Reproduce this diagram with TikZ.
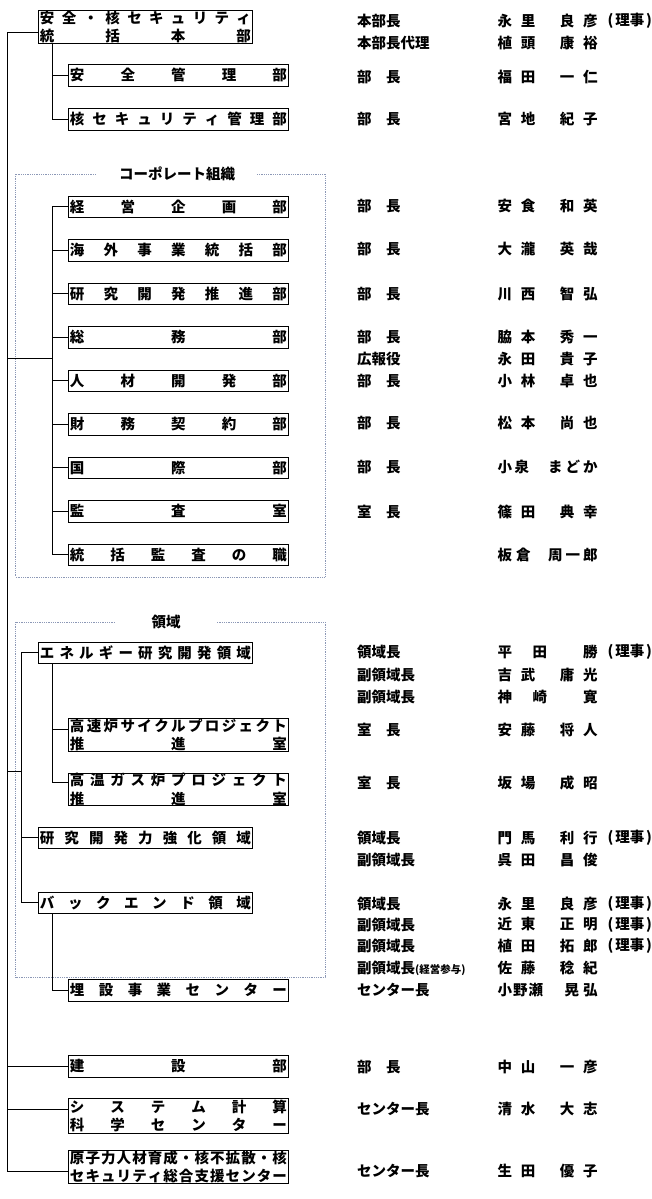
\documentclass[tikz,border=0pt]{standalone}
\usepackage{fontspec}
\setmainfont{Noto Sans CJK JP}
\usepackage{xcolor}
\usetikzlibrary{calc}

\definecolor{grpline}{RGB}{140,152,182}
\newcommand\orgfont{\fontsize{14.5pt}{18.5pt}\selectfont\bfseries}
\newcommand\jsp{\hspace{8.8pt}}
\newcommand\nm[2]{\makebox[100pt][l]{#1\hfill#2}}
\makeatletter
\newcommand\spreadtxt[1]{\def\spr@sep{}\@tfor\spr@c:=#1\do{\spr@sep\spr@c\def\spr@sep{\hfill}}}
\makeatother
\newcommand\wline[1]{\makebox[217pt]{\expandafter\spreadtxt\expandafter{#1}}}
\newcommand\sline[1]{\makebox[211pt]{\expandafter\spreadtxt\expandafter{#1}}}
\newcommand\riji{(\kern2pt 理事\kern1.5pt)}

\tikzset{
  org/.style={draw, line width=0.9pt, inner sep=0pt, minimum height=21.5pt,
    anchor=north west, font=\orgfont},
  widebox/.style={org, minimum width=220pt},
  slimbox/.style={org, minimum width=214pt},
  post/.style={anchor=west, inner sep=0pt, font=\orgfont},
  link/.style={line width=0.9pt},
  group/.style={grpline, line width=0.8pt, densely dotted},
  grouptitle/.style={fill=white, inner ysep=2pt, font=\orgfont}
}

\begin{document}
\begin{tikzpicture}[x=1pt, y=-1pt]
    \useasboundingbox (0,0) rectangle (652,1199);
    % --- bus lines ---
    \coordinate (spine) at (7,0);
    \coordinate (subbus) at (52,0);
    \coordinate (ryoikibus) at (21.7,0);
    \coordinate (corpjoin) at (52,358);
    \coordinate (ryoikijoin) at (21.7,771.7);
    % --- group frames ---
    \draw[group] (15.7,174) rectangle (325,577);
    \node[grouptitle, inner xsep=22pt] (corptitle) at (177,174) {コーポレート組織};
    \draw[group] (15.7,622) rectangle (325,977);
    \node[grouptitle, inner xsep=36pt] (ryoikititle) at (166,622) {領域};
    % --- headquarters ---
    \node[slimbox, minimum height=33pt, align=center] (hq) at (38,10)
      {\sline{安全・核セキュリティ}\\\sline{統括本部}};
    \node[widebox] (anzen) at (68,64) {\wline{安全管理部}};
    \node[widebox] (kakusec) at (68,108) {\wline{核セキュリティ管理部}};
    % --- corporate units ---
    \foreach \n/\lbl [count=\k from 0] in {keiei/経営企画部, kaigai/海外事業統括部,
        kenkyu/研究開発推進部, soumu/総務部, jinzai/人材開発部, zaimu/財務契約部,
        kokusai/国際部, kansa/監査室, kansashoku/統括監査の職}
      \node[widebox] (\n) at (68,195.5+43.5*\k) {\wline{\lbl}};
    % --- domains ---
    \node[slimbox] (energy) at (38,641.5) {\sline{エネルギー研究開発領域}};
    \node[widebox, minimum height=32.5pt, align=center] (kosokuro) at (68,718)
      {\wline{高速炉サイクルプロジェクト}\\\wline{推進室}};
    \node[widebox, minimum height=31.5pt, align=center] (kouon) at (68,772.5)
      {\wline{高温ガス炉プロジェクト}\\\wline{推進室}};
    \node[slimbox] (kyouka) at (38,826.5) {\sline{研究開発力強化領域}};
    \node[slimbox] (backend) at (38,891.5) {\sline{バックエンド領域}};
    \node[widebox] (maisetsu) at (68,979) {\wline{埋設事業センター}};
    % --- other units ---
    \node[widebox] (kensetsu) at (68,1055) {\wline{建設部}};
    \node[widebox, minimum height=35pt, align=center] (system) at (68,1098)
      {\wline{システム計算}\\\wline{科学センター}};
    \node[widebox, minimum height=31.5pt, align=center] (genshiryoku) at (68,1150)
      {\wline{原子力人材育成・核不拡散・核}\\\wline{セキュリティ総合支援センター}};
    % --- connectors ---
    \coordinate (hqjoin) at ([yshift=-5.2pt]hq.west);
    \coordinate (genjoin) at ([yshift=-5.2pt]genshiryoku.west);
    \coordinate (sysjoin) at ([yshift=6.5pt]system.west);
    \coordinate (kosojoin) at ([yshift=5.3pt]kosokuro.west);
    \coordinate (kouonjoin) at ([yshift=6.6pt]kouon.west);
    \draw[link] (hqjoin) -| (spine |- genjoin) -- (genjoin);
    \draw[link] (kensetsu.west) -- (kensetsu.west -| spine);
    \draw[link] (sysjoin) -- (sysjoin -| spine);
    \draw[link] (corpjoin) -- (corpjoin -| spine);
    \draw[link] (ryoikijoin) -- (ryoikijoin -| spine);
    \draw[link] (hq.south -| subbus) |- (kakusec.west);
    \draw[link] (anzen.west) -- (anzen.west -| subbus);
    \draw[link] (keiei.west) -| (subbus |- kansashoku.west) -- (kansashoku.west);
    \foreach \n in {kaigai, kenkyu, soumu, jinzai, zaimu, kokusai, kansa}
      \draw[link] (\n.west) -- (\n.west -| subbus);
    \draw[link] (energy.west) -| (ryoikibus |- backend.west) -- (backend.west);
    \draw[link] (kyouka.west) -- (kyouka.west -| ryoikibus);
    \draw[link] (energy.south -| subbus) |- (kouonjoin);
    \draw[link] (kosojoin) -- (kosojoin -| subbus);
    \draw[link] (backend.south -| subbus) |- (maisetsu.west);
    % --- posts and names ---
    \foreach \yy/\role/\who/\note [count=\i] in {
        20.5/本部長/{永\jsp 里}{良\jsp 彦}/\riji,
        43/本部長代理/{植\jsp 頭}{康\jsp 裕}/,
        77/部　長/{福\jsp 田}{一\jsp 仁}/,
        119/部　長/{宮\jsp 地}{紀\jsp 子}/,
        206/部　長/{安\jsp 食}{和\jsp 英}/,
        249.5/部　長/{大\jsp 瀧}{英\jsp 哉}/,
        294/部　長/{川\jsp 西}{智\jsp 弘}/,
        337/部　長/{脇\jsp 本}{秀\jsp 一}/,
        359/広報役/{永\jsp 田}{貴\jsp 子}/,
        381/部　長/{小\jsp 林}{卓\jsp 也}/,
        423.5/部　長/{松\jsp 本}{尚\jsp 也}/,
        467/部　長/{小\hspace{2.5pt}泉}{ま\hspace{3pt}ど\hspace{3pt}か}/,
        511.5/室　長/{篠\jsp 田}{典\jsp 幸}/,
        555//{板\hspace{4pt}倉}{周\hspace{3pt}一\hspace{3pt}郎}/,
        652/領域長/{平\hspace{20.5pt}田}{勝}/\riji,
        675/副領域長/{吉\jsp 武}{庸\jsp 光}/,
        697/副領域長/{神\hspace{20.5pt}崎}{寛}/,
        730/室　長/{安\jsp 藤}{将\jsp 人}/,
        783/室　長/{坂\jsp 場}{成\jsp 昭}/,
        837.5/領域長/{門\jsp 馬}{利\jsp 行}/\riji,
        860/副領域長/{呉\jsp 田}{昌\jsp 俊}/,
        903.5/領域長/{永\jsp 里}{良\jsp 彦}/\riji,
        924.5/副領域長/{近\jsp 東}{正\jsp 明}/\riji,
        946/副領域長/{植\jsp 田}{拓\jsp 郎}/\riji,
        968/副領域長{\fontsize{10.5pt}{10.5pt}\selectfont(経営参与)}/{佐\jsp 藤}{稔\jsp 紀}/,
        990/センター長/{小\hspace{1pt}野\hspace{1pt}瀬}{晃\hspace{4pt}弘}/,
        1067/部　長/{中\jsp 山}{一\jsp 彦}/,
        1109/センター長/{清\jsp 水}{大\jsp 志}/,
        1171/センター長/{生\jsp 田}{優\jsp 子}/}
    {
      \node[post] (role\i) at (357,\yy) {\role};
      \node[post] (who\i) at (497.5,\yy) {\expandafter\nm\who};
      \node[post] (note\i) at (607.5,\yy) {\note};
    }
\end{tikzpicture}
\end{document}
